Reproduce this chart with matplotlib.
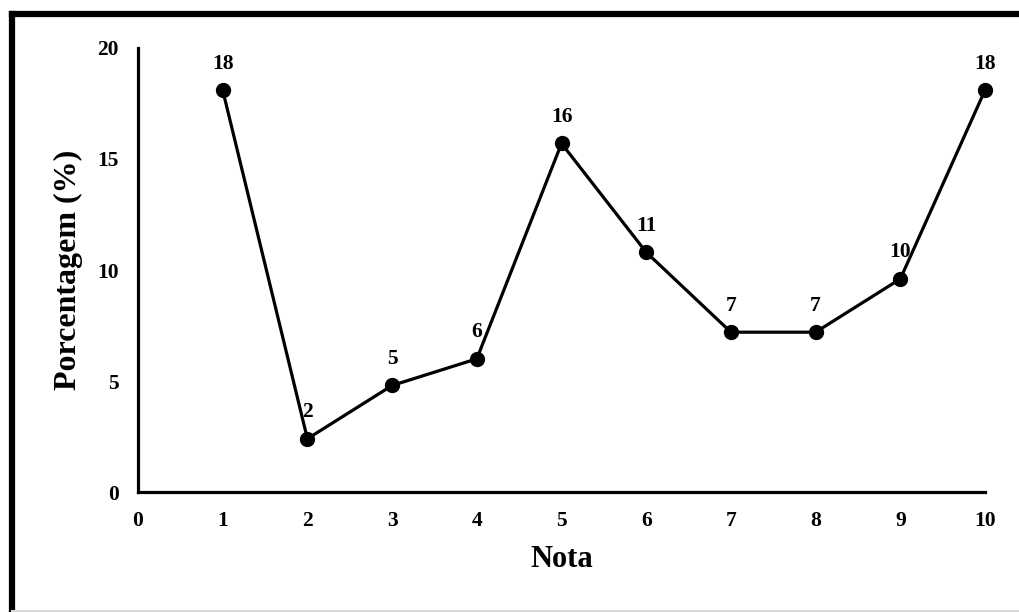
import matplotlib
matplotlib.use("Agg")
import matplotlib.pyplot as plt
from matplotlib.lines import Line2D

notas = [1, 2, 3, 4, 5, 6, 7, 8, 9, 10]
porcentagem = [18.1, 2.4, 4.8, 6.0, 15.7, 10.8, 7.2, 7.2, 9.6, 18.1]
xticks = list(range(0, 11))
yticks = [0, 5, 10, 15, 20]

plt.rcParams["font.family"] = ["Liberation Serif", "DejaVu Serif"]
plt.rcParams["font.weight"] = "bold"

fig = plt.figure(figsize=(10.2, 6.12), dpi=100)
ax = fig.add_axes([0.1353, 0.196, 0.8304, 0.7256])

ax.plot(notas, porcentagem, color="black", lw=2.3, marker="o", ms=10,
        markerfacecolor="black", markeredgecolor="black", clip_on=False)
for x, y in zip(notas, porcentagem):
    ax.annotate(f"{y:.0f}", (x, y), xytext=(0, 12), textcoords="offset points",
                ha="center", va="bottom", fontsize=15.5, fontweight="bold")

ax.set_xlim(0, 10)
ax.set_ylim(0, 20)
ax.set_xticks(xticks)
ax.set_yticks(yticks)
ax.tick_params(length=0, labelsize=15.5, pad=14)
for lab in ax.get_xticklabels() + ax.get_yticklabels():
    lab.set_fontweight("bold")
for s in ["top", "right"]:
    ax.spines[s].set_visible(False)
for s in ["left", "bottom"]:
    ax.spines[s].set_linewidth(2.3)
ax.patch.set_visible(False)

ax.set_xlabel("Nota", fontsize=22, fontweight="bold", labelpad=10)
ax.set_ylabel("Porcentagem (%)", fontsize=23, fontweight="bold", labelpad=10)

# frame around the figure
fig.add_artist(Line2D([0.0115, 1.0], [0.9765, 0.9765], transform=fig.transFigure,
                      color="black", lw=4.5, solid_capstyle="projecting"))
fig.add_artist(Line2D([0.0115, 0.0115], [0.0, 0.9765], transform=fig.transFigure,
                      color="black", lw=4.5, solid_capstyle="projecting"))
fig.add_artist(Line2D([0.0115, 1.0], [0.002, 0.002], transform=fig.transFigure,
                      color="#d9d9d9", lw=1.5))

fig.savefig("out.png", dpi=100)
